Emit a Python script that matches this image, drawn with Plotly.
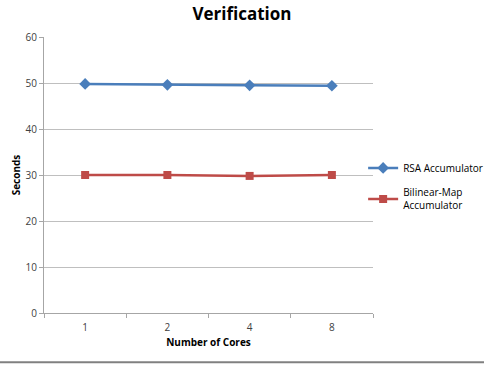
import plotly.graph_objects as go

cores = ["1", "2", "4", "8"]
rsa = [49.8, 49.6, 49.5, 49.4]
bilinear = [30.0, 30.0, 29.8, 30.0]
y_ticks = [0, 10, 20, 30, 40, 50, 60]

fig = go.Figure()
fig.add_trace(go.Scatter(x=cores, y=rsa, name="RSA Accumulator", mode="lines+markers",
                         legendgroup="rsa",
                         line=dict(color="#4A7EBB", width=2.5),
                         marker=dict(symbol="diamond", size=9, color="#4A7EBB")))
fig.add_trace(go.Scatter(x=cores, y=bilinear, name="Bilinear-Map<br>Accumulator", mode="lines+markers",
                         legendgroup="bilinear",
                         line=dict(color="#BE4B48", width=2.5),
                         marker=dict(symbol="square", size=8, color="#BE4B48")))

font = "Open Sans, Liberation Sans, sans-serif"
fig.update_layout(
    width=484, height=367,
    margin=dict(l=44, r=111, t=37, b=54, autoexpand=False),
    paper_bgcolor="white", plot_bgcolor="white",
    font=dict(family=font, size=10, color="#000000"),
    title=dict(text="<b>Verification</b>", x=0.5, xanchor="center", y=0.962, yanchor="middle",
               font=dict(size=17, family=font)),
    showlegend=True,
    legend=dict(x=0.97, xanchor="left", y=0.578, yanchor="top", font=dict(size=10),
                tracegroupgap=7, itemwidth=30, bgcolor="rgba(0,0,0,0)"),
    xaxis=dict(type="category", showgrid=False, showline=True, linecolor="#A6A6A6",
               ticks="outside", tickson="boundaries", ticklen=4, tickcolor="#A6A6A6",
               tickfont=dict(size=10, color="#404040"), automargin=False,
               ticklabelstandoff=5,
               title=dict(text="<b>Number of Cores</b>", font=dict(size=10), standoff=5),
               range=[-0.5, 3.5]),
    yaxis=dict(range=[0, 60], tickvals=y_ticks, showgrid=True, gridcolor="#BFBFBF",
               showline=True, linecolor="#A6A6A6", ticks="outside", ticklen=4,
               tickcolor="#A6A6A6", tickfont=dict(size=10, color="#404040"), zeroline=False,
               automargin=False,
               title=dict(text="<b>Seconds</b>", font=dict(size=10), standoff=3)),
)
fig.add_shape(type="line", xref="paper", yref="paper", x0=-0.2, x1=1.5, y0=-0.178, y1=-0.178,
              line=dict(color="#808080", width=2))
fig.write_html("out.html", post_script="document.body.style.margin='0px';",
               config={"displayModeBar": False})
